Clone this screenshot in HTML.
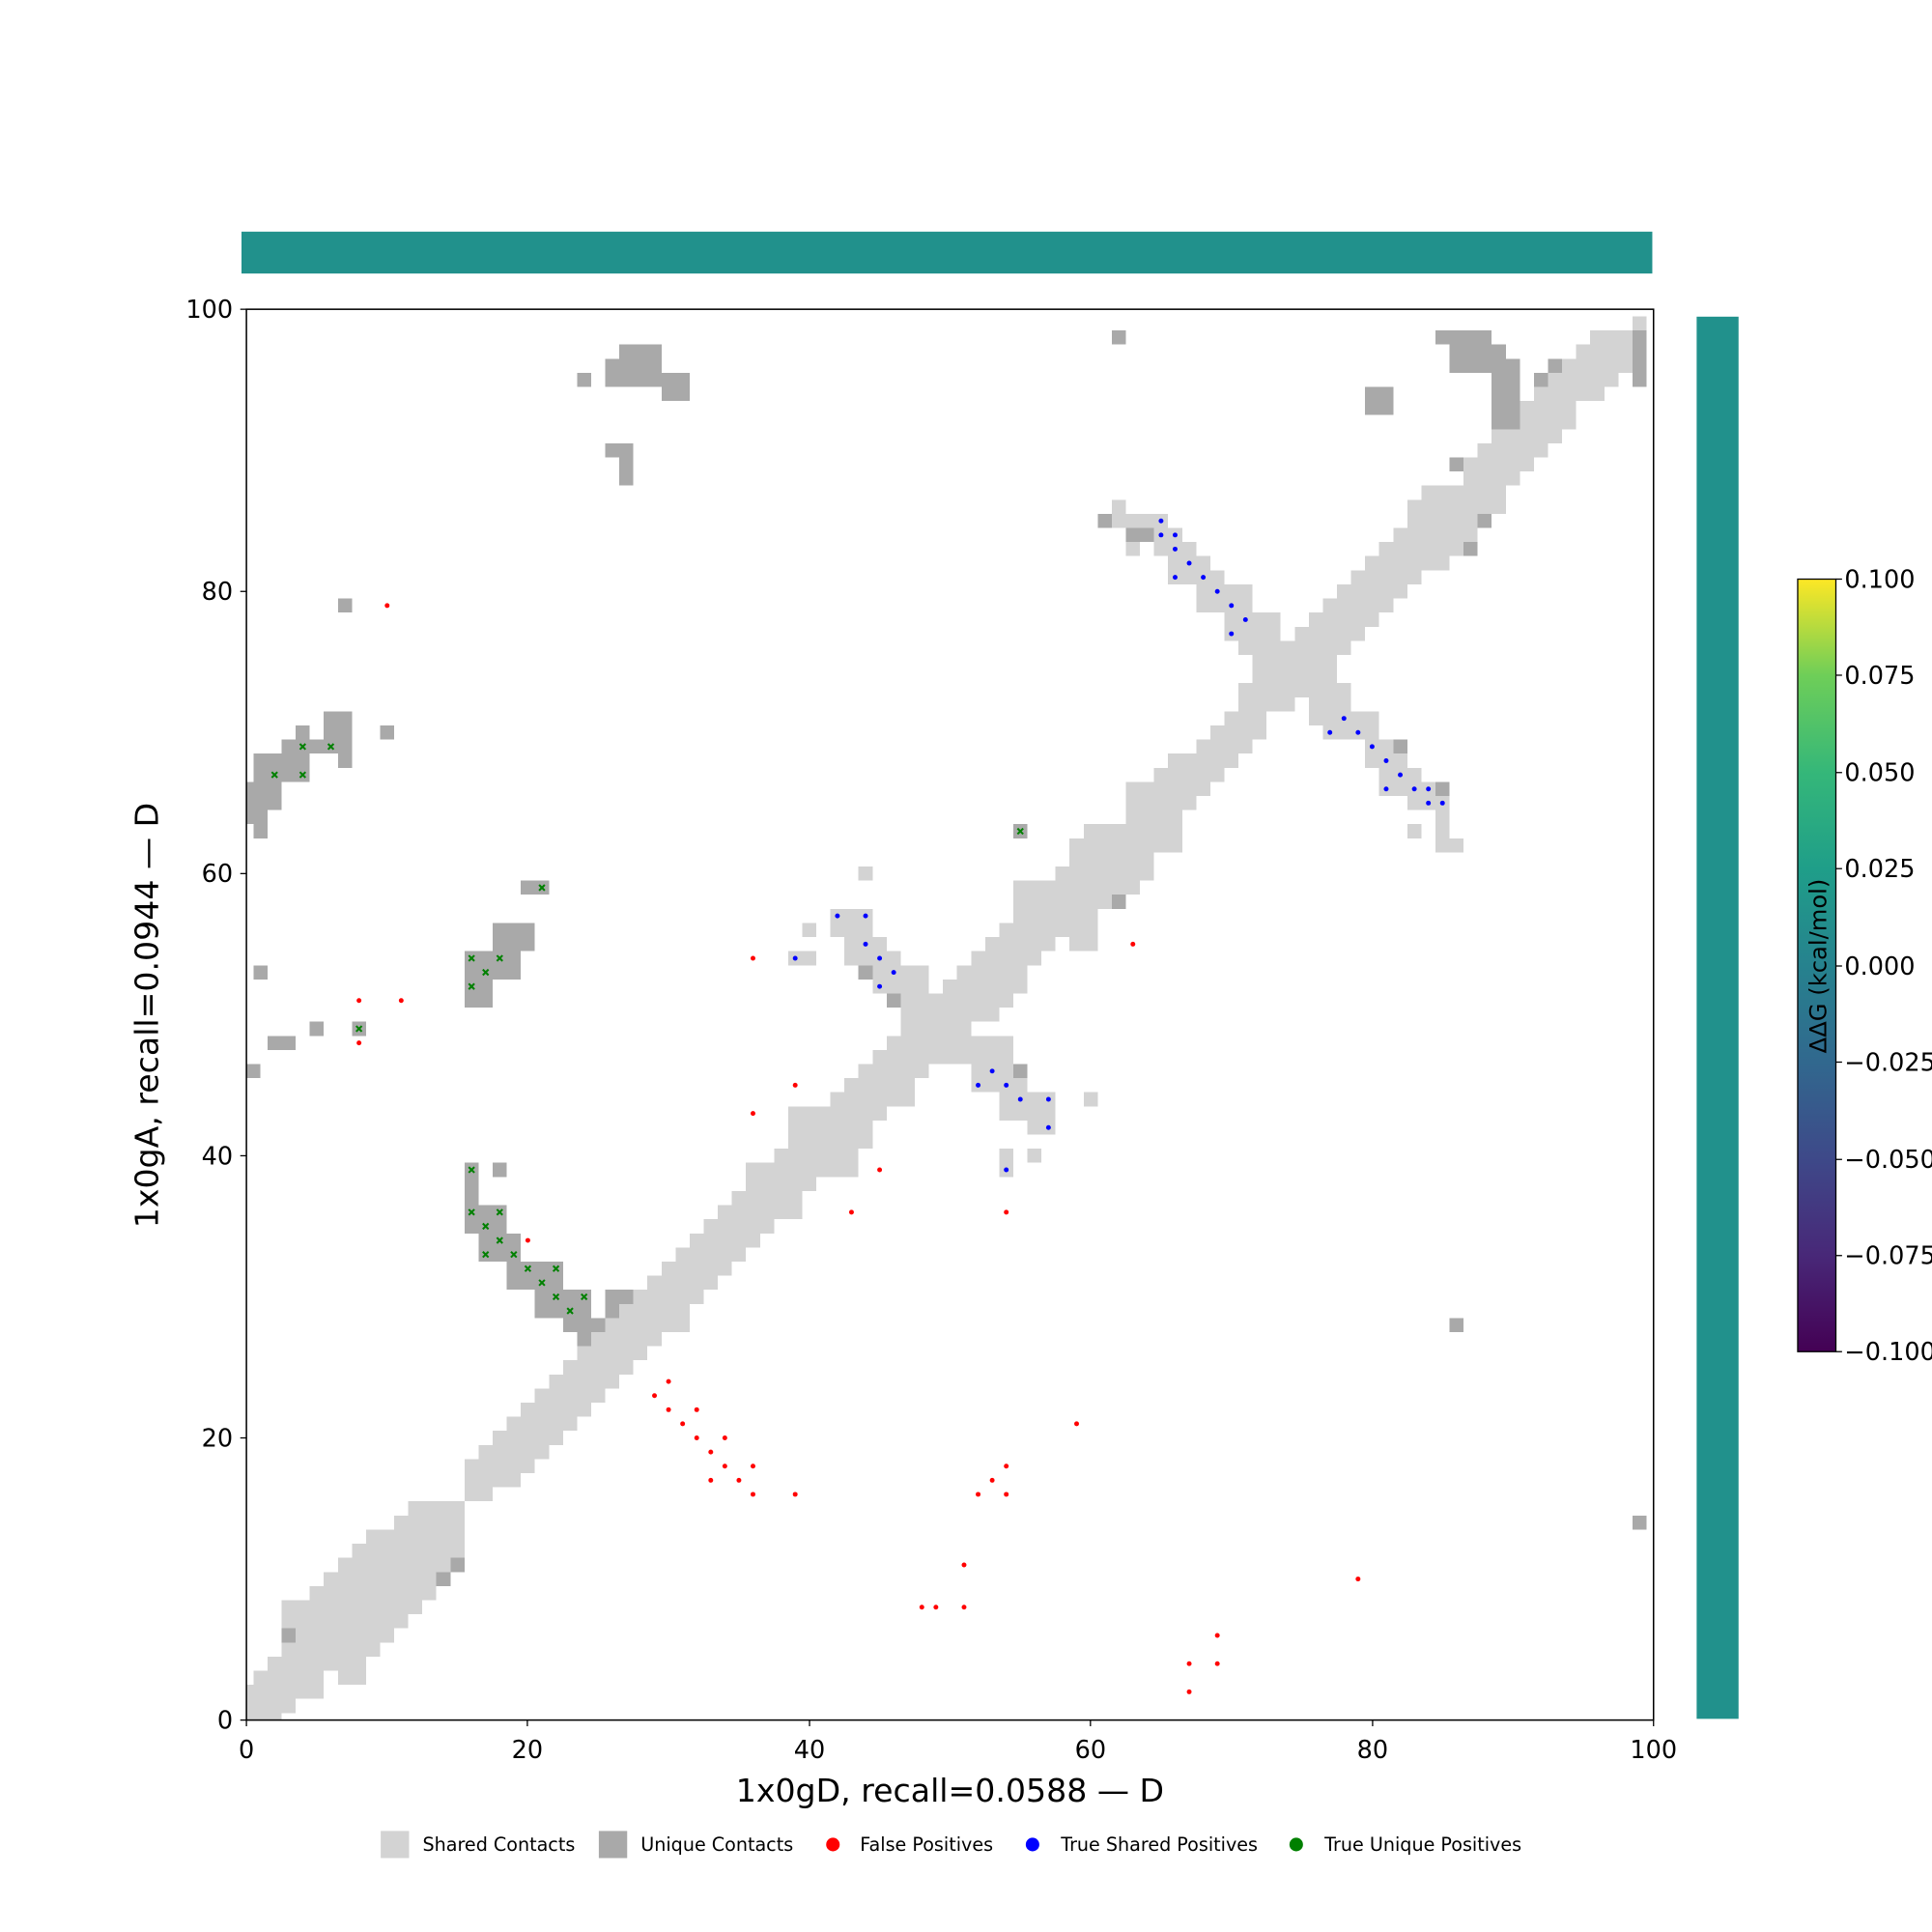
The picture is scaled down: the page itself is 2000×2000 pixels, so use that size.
<!DOCTYPE html>
<html><head><meta charset="utf-8"><style>html,body{margin:0;padding:0;background:#fff}svg{display:block}</style></head>
<body>
<svg width="2000" height="2000" viewBox="0 0 1568 1568" xmlns="http://www.w3.org/2000/svg" font-family="'DejaVu Sans','Liberation Sans',sans-serif">
<defs>
<linearGradient id="vir" x1="0" y1="1" x2="0" y2="0">
<stop offset="0" stop-color="#440154"/><stop offset="0.125" stop-color="#482878"/><stop offset="0.25" stop-color="#3e4989"/><stop offset="0.375" stop-color="#31688e"/><stop offset="0.5" stop-color="#26828e"/><stop offset="0.625" stop-color="#1f9e89"/><stop offset="0.75" stop-color="#35b779"/><stop offset="0.875" stop-color="#6ece58"/><stop offset="1" stop-color="#fde725"/>
</linearGradient>
<clipPath id="cp"><rect x="0" y="0" width="100" height="100"/></clipPath>
</defs>
<rect width="1568" height="1568" fill="#fff"/>
<rect x="196" y="188" width="1145" height="34" fill="#21918c"/>
<rect x="1377" y="257" width="34" height="1138" fill="#21918c"/>

<g transform="translate(200,1396) scale(11.42,-11.45)">
<g clip-path="url(#cp)">
<g fill="#d3d3d3" shape-rendering="crispEdges">
<rect x="-.5" y="-.5" width="1" height="3"/><rect x=".5" y="-.5" width="1" height="4"/><rect x="1.5" y="-.5" width="1" height="5"/><rect x="2.5" y=".5" width="1" height="8"/><rect x="3.5" y="1.5" width="1" height="7"/><rect x="4.5" y="1.5" width="1" height="8"/><rect x="5.5" y="3.5" width="1" height="7"/><rect x="6.5" y="2.5" width="1" height="9"/><rect x="7.5" y="2.5" width="1" height="10"/><rect x="8.5" y="4.5" width="1" height="9"/><rect x="9.5" y="5.5" width="1" height="8"/><rect x="10.5" y="6.5" width="1" height="8"/><rect x="11.5" y="7.5" width="1" height="8"/><rect x="12.5" y="8.5" width="1" height="7"/><rect x="13.5" y="9.5" width="1" height="6"/><rect x="14.5" y="10.5" width="1" height="5"/>
<rect x="15.5" y="15.5" width="1" height="3"/><rect x="16.5" y="15.5" width="1" height="4"/><rect x="17.5" y="16.5" width="1" height="4"/><rect x="18.5" y="16.5" width="1" height="5"/>
<rect x="19.5" y="17.5" width="1" height="5"/><rect x="20.5" y="18.5" width="1" height="5"/><rect x="21.5" y="19.5" width="1" height="5"/><rect x="22.5" y="20.5" width="1" height="5"/><rect x="23.5" y="21.5" width="1" height="5"/><rect x="24.5" y="22.5" width="1" height="5"/><rect x="25.5" y="23.5" width="1" height="5"/><rect x="26.5" y="24.5" width="1" height="5"/><rect x="27.5" y="25.5" width="1" height="5"/><rect x="28.5" y="26.5" width="1" height="5"/><rect x="29.5" y="27.5" width="1" height="5"/><rect x="30.5" y="27.5" width="1" height="6"/>
<rect x="31.5" y="29.5" width="1" height="5"/><rect x="32.5" y="30.5" width="1" height="5"/><rect x="33.5" y="31.5" width="1" height="5"/><rect x="34.5" y="32.5" width="1" height="5"/><rect x="35.5" y="33.5" width="1" height="6"/><rect x="36.5" y="34.5" width="1" height="5"/><rect x="37.5" y="35.5" width="1" height="5"/><rect x="38.5" y="35.5" width="1" height="8"/><rect x="39.5" y="37.5" width="1" height="6"/><rect x="40.5" y="38.5" width="1" height="5"/><rect x="41.5" y="38.5" width="1" height="6"/><rect x="42.5" y="38.5" width="1" height="7"/><rect x="43.5" y="40.5" width="1" height="6"/><rect x="44.5" y="42.5" width="1" height="5"/><rect x="45.5" y="43.5" width="1" height="5"/><rect x="46.5" y="43.5" width="1" height="10"/><rect x="47.5" y="45.5" width="1" height="8"/><rect x="48.5" y="46.5" width="1" height="5"/><rect x="49.5" y="46.5" width="1" height="6"/><rect x="50.5" y="46.5" width="1" height="7"/>
<rect x="51.5" y="44.5" width="1" height="4"/><rect x="51.5" y="49.5" width="1" height="5"/><rect x="52.5" y="44.5" width="1" height="4"/><rect x="52.5" y="49.5" width="1" height="6"/><rect x="53.5" y="42.5" width="1" height="6"/><rect x="53.5" y="50.5" width="1" height="6"/><rect x="54.5" y="42.5" width="1" height="4"/><rect x="54.5" y="51.5" width="1" height="8"/><rect x="55.5" y="41.5" width="1" height="3"/><rect x="55.5" y="53.5" width="1" height="6"/><rect x="56.5" y="41.5" width="1" height="3"/><rect x="56.5" y="54.5" width="1" height="5"/>
<rect x="57.5" y="55.5" width="1" height="5"/><rect x="58.5" y="54.5" width="1" height="8"/><rect x="59.5" y="54.5" width="1" height="9"/><rect x="60.5" y="57.5" width="1" height="6"/><rect x="61.5" y="58.5" width="1" height="5"/><rect x="62.5" y="58.5" width="1" height="8"/><rect x="63.5" y="59.5" width="1" height="7"/><rect x="64.5" y="61.5" width="1" height="6"/><rect x="65.5" y="61.5" width="1" height="7"/><rect x="66.5" y="64.5" width="1" height="4"/><rect x="67.5" y="65.5" width="1" height="4"/><rect x="68.5" y="66.5" width="1" height="4"/><rect x="69.5" y="67.5" width="1" height="4"/><rect x="70.5" y="68.5" width="1" height="4"/><rect x="71.5" y="69.5" width="1" height="6"/><rect x="72.5" y="71.5" width="1" height="4"/><rect x="73.5" y="71.5" width="1" height="4"/><rect x="74.5" y="72.5" width="1" height="5"/><rect x="75.5" y="70.5" width="1" height="8"/><rect x="76.5" y="69.5" width="1" height="10"/>
<rect x="77.5" y="69.5" width="1" height="4"/><rect x="77.5" y="75.5" width="1" height="5"/><rect x="78.5" y="69.5" width="1" height="2"/><rect x="78.5" y="76.5" width="1" height="5"/><rect x="79.5" y="67.5" width="1" height="4"/><rect x="79.5" y="77.5" width="1" height="5"/><rect x="80.5" y="65.5" width="1" height="4"/><rect x="80.5" y="78.5" width="1" height="5"/><rect x="81.5" y="65.5" width="1" height="3"/><rect x="81.5" y="79.5" width="1" height="5"/><rect x="82.5" y="64.5" width="1" height="3"/><rect x="82.5" y="80.5" width="1" height="6"/><rect x="83.5" y="64.5" width="1" height="2"/><rect x="83.5" y="81.5" width="1" height="6"/><rect x="84.5" y="61.5" width="1" height="4"/><rect x="84.5" y="81.5" width="1" height="6"/>
<rect x="85.5" y="82.5" width="1" height="5"/><rect x="86.5" y="83.5" width="1" height="6"/><rect x="87.5" y="84.5" width="1" height="6"/><rect x="88.5" y="85.5" width="1" height="6"/><rect x="89.5" y="87.5" width="1" height="5"/><rect x="90.5" y="88.5" width="1" height="5"/><rect x="91.5" y="89.5" width="1" height="5"/><rect x="92.5" y="90.5" width="1" height="5"/><rect x="93.5" y="91.5" width="1" height="5"/><rect x="94.5" y="93.5" width="1" height="4"/><rect x="95.5" y="93.5" width="1" height="5"/><rect x="96.5" y="94.5" width="1" height="4"/><rect x="97.5" y="95.5" width="1" height="3"/><rect x="98.5" y="98.5" width="1" height="1"/>
<rect x="61.5" y="85.5" width="1" height="1"/><rect x="61.5" y="84.5" width="4" height="1"/><rect x="64.5" y="83.5" width="2" height="1"/><rect x="62.5" y="82.5" width="1" height="1"/><rect x="64.5" y="82.5" width="3" height="1"/><rect x="65.5" y="81.5" width="3" height="1"/><rect x="65.5" y="80.5" width="4" height="1"/><rect x="67.5" y="78.5" width="4" height="2"/><rect x="69.5" y="76.5" width="4" height="2"/><rect x="70.5" y="75.5" width="5" height="1"/><rect x="71.5" y="73.5" width="6" height="2"/><rect x="70.5" y="72.5" width="8" height="1"/>
<rect x="41.5" y="55.5" width="3" height="2"/><rect x="42.5" y="53.5" width="3" height="2"/><rect x="45.5" y="53.5" width="1" height="1"/><rect x="44.5" y="51.5" width="4" height="2"/><rect x="39.5" y="55.5" width="1" height="1"/><rect x="38.5" y="53.5" width="2" height="1"/><rect x="43.5" y="59.5" width="1" height="1"/>
<rect x="53.5" y="38.5" width="1" height="2"/><rect x="55.5" y="39.5" width="1" height="1"/><rect x="59.5" y="43.5" width="1" height="1"/><rect x="82.5" y="62.5" width="1" height="1"/><rect x="84.5" y="61.5" width="2" height="1"/>
</g>
<g fill="#a9a9a9" shape-rendering="crispEdges">
<rect x="2.5" y="5.5" width="1" height="1"/><rect x="13.5" y="9.5" width="1" height="1"/><rect x="14.5" y="10.5" width="1" height="1"/>
<rect x="43.5" y="52.5" width="1" height="1"/><rect x="45.5" y="50.5" width="1" height="1"/><rect x="54.5" y="45.5" width="1" height="1"/><rect x="54.5" y="62.5" width="1" height="1"/><rect x="61.5" y="57.5" width="1" height="1"/>
<rect x="60.5" y="84.5" width="1" height="1"/><rect x="62.5" y="83.5" width="2" height="1"/><rect x="81.5" y="68.5" width="1" height="1"/><rect x="84.5" y="65.5" width="1" height="1"/>
<rect x="86.5" y="82.5" width="1" height="1"/><rect x="87.5" y="84.5" width="1" height="1"/><rect x="85.5" y="88.5" width="1" height="1"/>
<rect x="85.5" y="27.5" width="1" height="1"/><rect x="98.5" y="13.5" width="1" height="1"/>
<rect x="84.5" y="97.5" width="4" height="1"/><rect x="85.5" y="95.5" width="4" height="2"/><rect x="88.5" y="91.5" width="2" height="5"/><rect x="79.5" y="92.5" width="2" height="2"/><rect x="91.5" y="94.5" width="1" height="1"/><rect x="92.5" y="95.5" width="1" height="1"/><rect x="98.5" y="94.5" width="1" height="4"/><rect x="61.5" y="97.5" width="1" height="1"/>
<rect x="23.5" y="94.5" width="1" height="1"/><rect x="25.5" y="94.5" width="4" height="2"/><rect x="26.5" y="96.5" width="3" height="1"/><rect x="29.5" y="93.5" width="2" height="2"/><rect x="25.5" y="89.5" width="2" height="1"/><rect x="26.5" y="87.5" width="1" height="2"/>
<rect x="6.5" y="78.5" width="1" height="1"/><rect x="9.5" y="69.5" width="1" height="1"/>
<rect x="5.5" y="68.5" width="1" height="3"/><rect x="6.5" y="67.5" width="1" height="4"/><rect x="3.5" y="69.5" width="1" height="1"/><rect x="2.5" y="68.5" width="3" height="1"/><rect x=".5" y="66.5" width="4" height="2"/><rect x="-.5" y="64.5" width="3" height="2"/><rect x="-.5" y="63.5" width="2" height="1"/><rect x=".5" y="62.5" width="1" height="1"/>
<rect x=".5" y="52.5" width="1" height="1"/><rect x="1.5" y="47.5" width="2" height="1"/><rect x="4.5" y="48.5" width="1" height="1"/><rect x="7.5" y="48.5" width="1" height="1"/><rect x="-.5" y="45.5" width="1.5" height="1"/>
<rect x="15.5" y="50.5" width="2" height="4"/><rect x="17.5" y="52.5" width="2" height="2"/><rect x="17.5" y="54.5" width="3" height="2"/><rect x="19.5" y="58.5" width="2" height="1"/>
<rect x="15.5" y="34.5" width="1" height="5"/><rect x="17.5" y="38.5" width="1" height="1"/><rect x="16.5" y="34.5" width="2" height="2"/><rect x="16.5" y="32.5" width="3" height="2"/><rect x="18.5" y="30.5" width="4" height="2"/><rect x="20.5" y="28.5" width="4" height="2"/><rect x="22.5" y="27.5" width="3" height="1"/><rect x="23.5" y="26.5" width="1" height="1"/><rect x="25.5" y="29.5" width="2" height="1"/><rect x="25.5" y="28.5" width="1" height="1"/>
</g>
</g>
<g fill="#ff0000">
<circle cx="10" cy="79" r="0.17"/><circle cx="8" cy="51" r="0.17"/><circle cx="11" cy="51" r="0.17"/><circle cx="8" cy="48" r="0.17"/><circle cx="36" cy="54" r="0.17"/><circle cx="39" cy="45" r="0.17"/><circle cx="36" cy="43" r="0.17"/><circle cx="45" cy="39" r="0.17"/><circle cx="43" cy="36" r="0.17"/><circle cx="54" cy="36" r="0.17"/><circle cx="63" cy="55" r="0.17"/><circle cx="20" cy="34" r="0.17"/>
<circle cx="29" cy="23" r="0.17"/><circle cx="30" cy="24" r="0.17"/><circle cx="30" cy="22" r="0.17"/><circle cx="32" cy="22" r="0.17"/><circle cx="31" cy="21" r="0.17"/><circle cx="32" cy="20" r="0.17"/><circle cx="34" cy="20" r="0.17"/><circle cx="33" cy="19" r="0.17"/><circle cx="34" cy="18" r="0.17"/><circle cx="36" cy="18" r="0.17"/><circle cx="33" cy="17" r="0.17"/><circle cx="35" cy="17" r="0.17"/><circle cx="36" cy="16" r="0.17"/><circle cx="39" cy="16" r="0.17"/>
<circle cx="59" cy="21" r="0.17"/><circle cx="52" cy="16" r="0.17"/><circle cx="53" cy="17" r="0.17"/><circle cx="54" cy="18" r="0.17"/><circle cx="54" cy="16" r="0.17"/><circle cx="51" cy="11" r="0.17"/><circle cx="48" cy="8" r="0.17"/><circle cx="49" cy="8" r="0.17"/><circle cx="51" cy="8" r="0.17"/><circle cx="79" cy="10" r="0.17"/><circle cx="69" cy="6" r="0.17"/><circle cx="67" cy="4" r="0.17"/><circle cx="69" cy="4" r="0.17"/><circle cx="67" cy="2" r="0.17"/>
</g>
<g fill="#0000ff">
<circle cx="65" cy="85" r="0.17"/><circle cx="65" cy="84" r="0.17"/><circle cx="66" cy="84" r="0.17"/><circle cx="66" cy="83" r="0.17"/><circle cx="67" cy="82" r="0.17"/><circle cx="68" cy="81" r="0.17"/><circle cx="66" cy="81" r="0.17"/><circle cx="69" cy="80" r="0.17"/><circle cx="70" cy="79" r="0.17"/><circle cx="71" cy="78" r="0.17"/><circle cx="70" cy="77" r="0.17"/>
<circle cx="77" cy="70" r="0.17"/><circle cx="78" cy="71" r="0.17"/><circle cx="79" cy="70" r="0.17"/><circle cx="80" cy="69" r="0.17"/><circle cx="81" cy="68" r="0.17"/><circle cx="82" cy="67" r="0.17"/><circle cx="81" cy="66" r="0.17"/><circle cx="83" cy="66" r="0.17"/><circle cx="84" cy="66" r="0.17"/><circle cx="84" cy="65" r="0.17"/><circle cx="85" cy="65" r="0.17"/>
<circle cx="42" cy="57" r="0.17"/><circle cx="44" cy="57" r="0.17"/><circle cx="39" cy="54" r="0.17"/><circle cx="44" cy="55" r="0.17"/><circle cx="45" cy="54" r="0.17"/><circle cx="46" cy="53" r="0.17"/><circle cx="45" cy="52" r="0.17"/>
<circle cx="52" cy="45" r="0.17"/><circle cx="53" cy="46" r="0.17"/><circle cx="54" cy="45" r="0.17"/><circle cx="55" cy="44" r="0.17"/><circle cx="57" cy="44" r="0.17"/><circle cx="57" cy="42" r="0.17"/><circle cx="54" cy="39" r="0.17"/>
</g>
<g stroke="#008000" stroke-width="0.14" fill="none">
<path d="M1.8,66.8l.4,.4m0,-.4l-.4,.4 M3.8,68.8l.4,.4m0,-.4l-.4,.4 M5.8,68.8l.4,.4m0,-.4l-.4,.4 M3.8,66.8l.4,.4m0,-.4l-.4,.4 M7.8,48.8l.4,.4m0,-.4l-.4,.4 M15.8,53.8l.4,.4m0,-.4l-.4,.4 M17.8,53.8l.4,.4m0,-.4l-.4,.4 M16.8,52.8l.4,.4m0,-.4l-.4,.4 M15.8,51.8l.4,.4m0,-.4l-.4,.4 M20.8,58.8l.4,.4m0,-.4l-.4,.4 M54.8,62.8l.4,.4m0,-.4l-.4,.4 M15.8,38.8l.4,.4m0,-.4l-.4,.4 M15.8,35.8l.4,.4m0,-.4l-.4,.4 M17.8,35.8l.4,.4m0,-.4l-.4,.4 M16.8,34.8l.4,.4m0,-.4l-.4,.4 M17.8,33.8l.4,.4m0,-.4l-.4,.4 M16.8,32.8l.4,.4m0,-.4l-.4,.4 M18.8,32.8l.4,.4m0,-.4l-.4,.4 M19.8,31.8l.4,.4m0,-.4l-.4,.4 M21.8,31.8l.4,.4m0,-.4l-.4,.4 M20.8,30.8l.4,.4m0,-.4l-.4,.4 M21.8,29.8l.4,.4m0,-.4l-.4,.4 M23.8,29.8l.4,.4m0,-.4l-.4,.4 M22.8,28.8l.4,.4m0,-.4l-.4,.4"/>
</g>
</g>

<rect x="200" y="251" width="1142" height="1145" fill="none" stroke="#000" stroke-width="1.2"/>
<g stroke="#000" stroke-width="1">
<line x1="200" y1="1396" x2="200" y2="1401"/><line x1="428" y1="1396" x2="428" y2="1401"/><line x1="657" y1="1396" x2="657" y2="1401"/><line x1="885" y1="1396" x2="885" y2="1401"/><line x1="1114" y1="1396" x2="1114" y2="1401"/><line x1="1342" y1="1396" x2="1342" y2="1401"/>
<line x1="195" y1="1396" x2="200" y2="1396"/><line x1="195" y1="1167" x2="200" y2="1167"/><line x1="195" y1="938" x2="200" y2="938"/><line x1="195" y1="709" x2="200" y2="709"/><line x1="195" y1="480" x2="200" y2="480"/><line x1="195" y1="251" x2="200" y2="251"/>
</g>
<g font-size="20" fill="#000">
<g text-anchor="middle">
<text x="200" y="1427">0</text><text x="428" y="1427">20</text><text x="657" y="1427">40</text><text x="885" y="1427">60</text><text x="1114" y="1427">80</text><text x="1342" y="1427">100</text>
</g>
<g text-anchor="end">
<text x="189" y="1403">0</text><text x="189" y="1174">20</text><text x="189" y="945">40</text><text x="189" y="716">60</text><text x="189" y="487">80</text><text x="189" y="258">100</text>
</g>
</g>
<text x="771" y="1462" text-anchor="middle" font-size="26">1x0gD, recall=0.0588 — D</text>
<text transform="translate(128,824) rotate(-90)" text-anchor="middle" font-size="26">1x0gA, recall=0.0944 — D</text>

<rect x="1459" y="470" width="31" height="627" fill="url(#vir)" stroke="#000" stroke-width="1"/>
<g stroke="#000"><line x1="1490" y1="470" x2="1495" y2="470"/><line x1="1490" y1="548" x2="1495" y2="548"/><line x1="1490" y1="627" x2="1495" y2="627"/><line x1="1490" y1="705" x2="1495" y2="705"/><line x1="1490" y1="784" x2="1495" y2="784"/><line x1="1490" y1="862" x2="1495" y2="862"/><line x1="1490" y1="941" x2="1495" y2="941"/><line x1="1490" y1="1019" x2="1495" y2="1019"/><line x1="1490" y1="1097" x2="1495" y2="1097"/></g>
<g font-size="20">
<text x="1497" y="477">0.100</text><text x="1497" y="555">0.075</text><text x="1497" y="634">0.050</text><text x="1497" y="712">0.025</text><text x="1497" y="791">0.000</text><text x="1497" y="869">−0.025</text><text x="1497" y="948">−0.050</text><text x="1497" y="1026">−0.075</text><text x="1497" y="1104">−0.100</text>
</g>
<text transform="translate(1482,784) rotate(-90)" text-anchor="middle" font-size="19">ΔΔG (kcal/mol)</text>

<g font-size="15">
<rect x="309" y="1486" width="23" height="22" fill="#d3d3d3"/><text x="343" y="1502">Shared Contacts</text>
<rect x="486" y="1486" width="23" height="22" fill="#a9a9a9"/><text x="520" y="1502">Unique Contacts</text>
<circle cx="676" cy="1497" r="5.5" fill="#ff0000"/><text x="698" y="1502">False Positives</text>
<circle cx="838" cy="1497" r="5.5" fill="#0000ff"/><text x="861" y="1502">True Shared Positives</text>
<circle cx="1052" cy="1497" r="5.5" fill="#008000"/><text x="1075" y="1502">True Unique Positives</text>
</g>
</svg>
</body></html>
